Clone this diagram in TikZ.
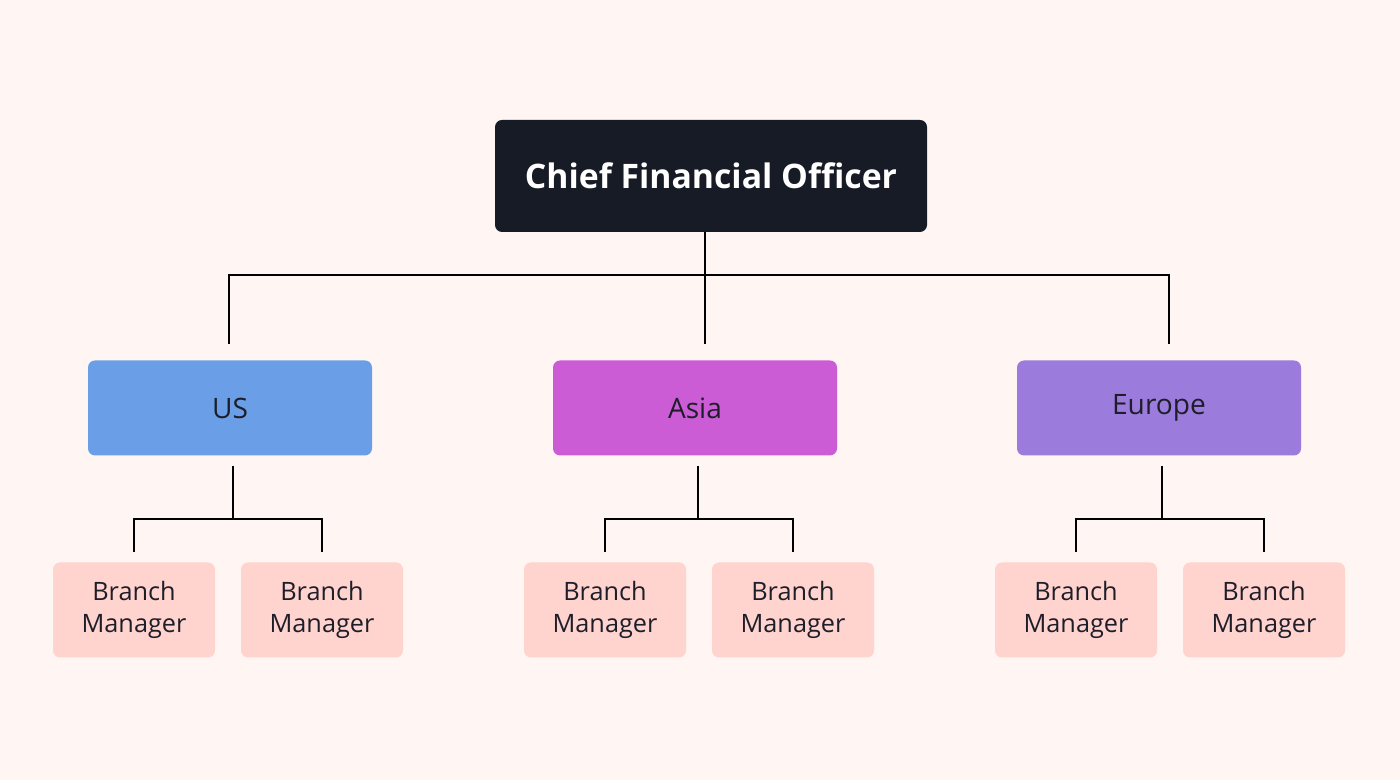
\documentclass[tikz,border=0pt]{standalone}
\usepackage{fontspec}
\setmainfont{Open Sans}
\usetikzlibrary{positioning, calc}
\definecolor{bgcol}{HTML}{FFF5F3}
\definecolor{cfocol}{HTML}{161B26}
\definecolor{uscol}{HTML}{6A9FE8}
\definecolor{asiacol}{HTML}{CC5CD6}
\definecolor{eucol}{HTML}{9B7BDB}
\definecolor{bmcol}{HTML}{FFD3CE}
\definecolor{txtcol}{HTML}{1E1E2A}
\tikzset{
	chief/.style={rectangle, rounded corners=2pt, minimum width=4.32cm, minimum height=1.12cm, fill=cfocol, text=white, font=\fontsize{9.6}{11}\selectfont\bfseries},
	region/.style={rectangle, rounded corners=2pt, minimum width=2.84cm, minimum height=0.95cm, text=txtcol, font=\fontsize{8}{10}\selectfont},
	branch/.style={rectangle, rounded corners=2pt, minimum width=1.62cm, minimum height=0.95cm, fill=bmcol, text=txtcol, align=center, font=\fontsize{7.2}{9.2}\selectfont},
	link/.style={draw=black, line width=0.5pt},
}
\begin{document}
\begin{tikzpicture}
		\fill[bgcol] (0,0) rectangle (14,7.8);
		\useasboundingbox (0,0) rectangle (14,7.8);
		
		\node (cfo) [chief] at (7.11,6.04) {Chief Financial Officer};
		
		\node (us) [region, fill=uscol] at (2.30,3.72) {US};
		\node (asia) [region, fill=asiacol] at (6.95,3.72) {Asia};
		\node (eu) [region, fill=eucol] at (11.59,3.72) {Europe};
		
		\node (us1) [branch] at (1.34,1.70) {Branch\\Manager};
		\node (us2) [branch] at (3.22,1.70) {Branch\\Manager};
		\node (as1) [branch] at (6.05,1.70) {Branch\\Manager};
		\node (as2) [branch] at (7.93,1.70) {Branch\\Manager};
		\node (eu1) [branch] at (10.76,1.70) {Branch\\Manager};
		\node (eu2) [branch] at (12.64,1.70) {Branch\\Manager};
		
		% top level
		\coordinate (hub) at (7.05,5.05);
		\draw[link] (7.05,5.48) -- (hub);
		\draw[link] (hub) -| ($(us.north)+(-0.01,0.16)$);
		\draw[link] (hub) -| ($(eu.north)+(0.10,0.16)$);
		\draw[link] (hub) -- ($(asia.north)+(0.10,0.16)$);
		
		% regions
		\foreach \r/\a/\b in {us/us1/us2, asia/as1/as2, eu/eu1/eu2}{
			\draw[link] ($(\r.south)+(0.03,-0.10)$) -- ++(0,-0.53) coordinate (m);
			\draw[link] ($(\a.north)+(0,0.10)$) |- (m) -| ($(\b.north)+(0,0.10)$);
		}
	\end{tikzpicture}
\end{document}
